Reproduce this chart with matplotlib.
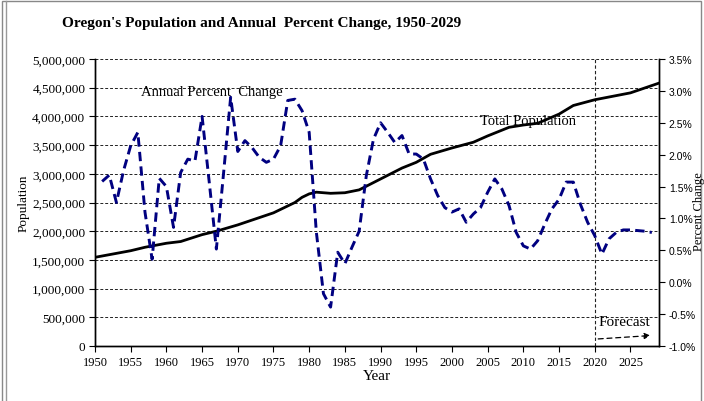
import matplotlib.pyplot as plt
import numpy as np
from matplotlib.patches import Rectangle
from matplotlib.lines import Line2D
from matplotlib.ticker import FuncFormatter, MultipleLocator

# Total population, 1950-2029
pop_years = [1950, 1955, 1957, 1960, 1962, 1965, 1967, 1970, 1975, 1977, 1978, 1979,
             1980, 1981, 1983, 1985, 1987, 1990, 1993, 1995, 1997, 2000, 2003, 2005,
             2008, 2010, 2012, 2015, 2017, 2020, 2025, 2029]
population = [1545000, 1660000, 1720000, 1790000, 1820000, 1940000, 2000000, 2110000,
              2320000, 2440000, 2500000, 2590000, 2650000, 2680000, 2660000, 2670000,
              2720000, 2910000, 3100000, 3200000, 3340000, 3450000, 3550000, 3660000,
              3810000, 3850000, 3880000, 4040000, 4190000, 4290000, 4410000, 4580000]

# Annual percent change, 1951-2028
pct_years = list(range(1951, 2029))
pct_change = [1.58, 1.68, 1.25, 1.75, 2.14, 2.35, 1.10, 0.36, 1.63, 1.50,
              0.86, 1.72, 1.93, 1.90, 2.60, 1.57, 0.52, 1.70, 2.90, 2.05,
              2.22, 2.11, 1.96, 1.88, 1.93, 2.14, 2.85, 2.87, 2.69, 2.35,
              0.79, -0.18, -0.39, 0.47, 0.29, 0.55, 0.80, 1.67, 2.24, 2.50,
              2.35, 2.19, 2.30, 2.01, 2.01, 1.93, 1.62, 1.36, 1.17, 1.10,
              1.15, 0.94, 1.07, 1.17, 1.41, 1.62, 1.46, 1.20, 0.78, 0.57,
              0.52, 0.65, 0.91, 1.15, 1.30, 1.57, 1.57, 1.22, 0.94, 0.73,
              0.44, 0.68, 0.78, 0.82, 0.82, 0.81, 0.80, 0.78]

year_ticks = list(range(1950, 2026, 5))
forecast_start = 2020

serif = 'Liberation Serif'
sans = 'Liberation Sans'

fig = plt.figure(figsize=(7.04, 4.02), dpi=100)
ax = fig.add_axes([95 / 704, 1 - 347 / 402, 564 / 704, 287 / 402])
ax2 = ax.twinx()

# population on the left axis
ax.plot(pop_years, population, color='black', lw=2.0, zorder=3)
ax.set_xlim(1950, 2029)
ax.set_ylim(0, 5000000)
ax.yaxis.set_major_locator(MultipleLocator(500000))
ax.yaxis.set_major_formatter(FuncFormatter(lambda v, p: f'{int(v):,}'))
ax.set_xticks(year_ticks)
for v in np.arange(500000, 5000001, 500000):
    ax.axhline(v, color='#222222', lw=0.7, ls=(0, (3, 2)), zorder=1)
ax.axvline(forecast_start, color='#222222', lw=0.8, ls=(0, (3, 2)), zorder=1)

# percent change on the right axis
ax2.plot(pct_years, pct_change, color='#000080', lw=2.1, ls=(0, (3.2, 1.8)), zorder=4)
ax2.set_ylim(-1.0, 3.5)
ax2.yaxis.set_major_locator(MultipleLocator(0.5))
ax2.yaxis.set_major_formatter(FuncFormatter(lambda v, p: f'{v:.1f}%'))

for a in (ax, ax2):
    a.spines['top'].set_visible(False)
    for s in a.spines.values():
        s.set_linewidth(1.0)
ax.tick_params(axis='both', direction='out', length=4, width=0.8, pad=3)
ax2.tick_params(axis='y', direction='out', length=4, width=0.8, pad=3)
for lab in ax.get_yticklabels():
    lab.set_fontfamily(serif)
    lab.set_fontsize(9.5)
for lab in ax.get_xticklabels():
    lab.set_fontfamily(serif)
    lab.set_fontsize(9)
for lab in ax2.get_yticklabels():
    lab.set_fontfamily(sans)
    lab.set_fontsize(7.5)

ax.set_xlabel('Year', family=serif, fontsize=11, labelpad=1)
ax.set_ylabel('Population', family=serif, fontsize=9.5, labelpad=2)
fig.text(699 / 704, 1 - 212 / 402, 'Percent Change', family=serif, fontsize=9,
         rotation=90, ha='center', va='center')

ax.text(1966.4, 4440000, 'Annual Percent  Change', family=serif, fontsize=10.5,
        ha='center', va='center', zorder=5)
ax.text(2010.7, 3920000, 'Total Population', family=serif, fontsize=10.5,
        ha='center', va='center', zorder=5)
ax.text(2024.2, 435000, 'Forecast', family=serif, fontsize=11,
        ha='center', va='center', zorder=5)
ax.annotate('', xy=(2028.2, 185000), xytext=(2020.1, 120000),
            arrowprops=dict(arrowstyle='-|>', color='black', lw=0.9,
                            ls=(0, (4, 3)), mutation_scale=9))

fig.suptitle("Oregon's Population and Annual  Percent Change, 1950-2029",
             family=serif, fontweight='bold', fontsize=11, x=262 / 704, y=1 - 24 / 402,
             va='center')

# frame around the chart
fig.add_artist(Rectangle((2 / 704, -0.01), 699 / 704, 1 - 2 / 402 + 0.01,
                         transform=fig.transFigure, fill=False,
                         edgecolor='#888888', lw=1.0))
fig.add_artist(Line2D([6 / 704, 6 / 704], [0, 1 - 2 / 402], transform=fig.transFigure,
                      color='#999999', lw=1.0))

fig.savefig('out.png', dpi=100)
